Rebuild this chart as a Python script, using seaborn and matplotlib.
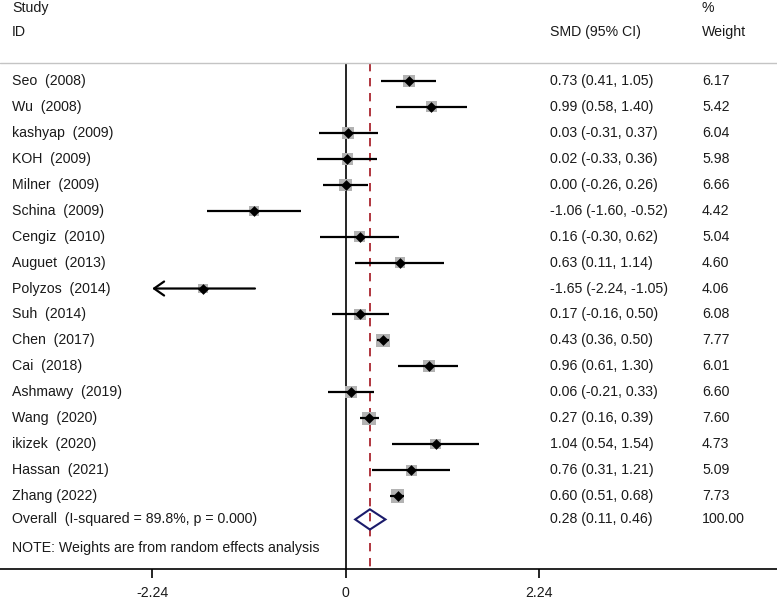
import numpy as np
import matplotlib
matplotlib.use("Agg")
import matplotlib.pyplot as plt
import pandas as pd
import seaborn as sns

# Study data
studies = ["Seo  (2008)", "Wu  (2008)", "kashyap  (2009)", "KOH  (2009)", "Milner  (2009)",
           "Schina  (2009)", "Cengiz  (2010)", "Auguet  (2013)", "Polyzos  (2014)", "Suh  (2014)",
           "Chen  (2017)", "Cai  (2018)", "Ashmawy  (2019)", "Wang  (2020)", "ikizek  (2020)",
           "Hassan  (2021)", "Zhang (2022)"]
smd = [0.73, 0.99, 0.03, 0.02, 0.00, -1.06, 0.16, 0.63, -1.65, 0.17,
       0.43, 0.96, 0.06, 0.27, 1.04, 0.76, 0.60]
lower = [0.41, 0.58, -0.31, -0.33, -0.26, -1.60, -0.30, 0.11, -2.24, -0.16,
         0.36, 0.61, -0.21, 0.16, 0.54, 0.31, 0.51]
upper = [1.05, 1.40, 0.37, 0.36, 0.26, -0.52, 0.62, 1.14, -1.05, 0.50,
         0.50, 1.30, 0.33, 0.39, 1.54, 1.21, 0.68]
weight = [6.17, 5.42, 6.04, 5.98, 6.66, 4.42, 5.04, 4.60, 4.06, 6.08,
          7.77, 6.01, 6.60, 7.60, 4.73, 5.09, 7.73]

overall_label = "Overall  (I-squared = 89.8%, p = 0.000)"
overall_est, overall_lo, overall_hi = 0.28, 0.11, 0.46
overall_weight = 100.00
note = "NOTE: Weights are from random effects analysis"
tick_values = [-2.24, 0, 2.24]

df = pd.DataFrame({"study": studies, "smd": smd, "lower": lower,
                   "upper": upper, "weight": weight})
df["row"] = np.arange(len(df))

sns.set_theme(style="white")
plt.rcParams["font.family"] = ["Liberation Sans", "DejaVu Sans"]
txt = "#1a1a1a"
fs = 10.2

fig = plt.figure(figsize=(7.77, 5.99), dpi=100)
ax = fig.add_axes([0, 0.0501, 1, 0.9499])
ax.set_xlim(-4.001, 4.992)
ax.set_ylim(18.81, -3.12)

# weight squares (area proportional to weight)
wmin, wmax = df["weight"].min(), df["weight"].max()
sns.scatterplot(data=df, x="smd", y="row", size="weight", sizes=(12 * wmin, 12 * wmax),
                size_norm=(wmin, wmax), marker="s", color="#b3b3b3", linewidth=0,
                legend=False, ax=ax, zorder=2)

# confidence intervals, with arrow when clipped at the axis
xmin_disp = tick_values[0]
for _, r in df.iterrows():
    if r["lower"] <= xmin_disp:
        ax.annotate("", xy=(xmin_disp, r["row"]), xytext=(r["upper"], r["row"]),
                    arrowprops=dict(arrowstyle="->,head_length=0.6,head_width=0.42",
                                    color="black", lw=1.6, shrinkA=0, shrinkB=0,
                                    mutation_scale=12), zorder=3)
    else:
        ax.hlines(r["row"], r["lower"], r["upper"], color="black", lw=1.6, zorder=3)

sns.scatterplot(data=df, x="smd", y="row", marker="D", s=30, color="black",
                linewidth=0, legend=False, ax=ax, zorder=4)

# overall diamond
oy = 16.9
dh = 0.39
ax.fill([overall_lo, overall_est, overall_hi, overall_est, overall_lo],
        [oy, oy - dh, oy, oy + dh, oy], facecolor="none", edgecolor="#1b1b6b",
        lw=1.5, zorder=4)

# reference lines
sep = -0.69
ax.vlines(0, sep, 18.81, color="black", lw=1.2, zorder=1)
ax.vlines(overall_est, sep, 18.81, color="#a3141e", lw=1.2,
          linestyles=(0, (5, 4)), zorder=1)
ax.axhline(sep, color="#c4c4c4", lw=1.0)

# text columns
tr = ax.get_yaxis_transform()
x_lab, x_ci, x_w = 12 / 777, 550 / 777, 702 / 777
ax.text(x_lab, -2.8, "Study", transform=tr, va="center", fontsize=fs, color=txt)
ax.text(x_lab, -1.9, "ID", transform=tr, va="center", fontsize=fs, color=txt)
ax.text(x_ci, -1.9, "SMD (95% CI)", transform=tr, va="center", fontsize=fs, color=txt)
ax.text(x_w, -2.8, "%", transform=tr, va="center", fontsize=fs, color=txt)
ax.text(x_w, -1.9, "Weight", transform=tr, va="center", fontsize=fs, color=txt)

for _, r in df.iterrows():
    ax.text(x_lab, r["row"], r["study"], transform=tr, va="center", fontsize=fs, color=txt)
    ax.text(x_ci, r["row"], f"{r['smd']:.2f} ({r['lower']:.2f}, {r['upper']:.2f})",
            transform=tr, va="center", fontsize=fs, color=txt)
    ax.text(x_w, r["row"], f"{r['weight']:.2f}", transform=tr, va="center",
            fontsize=fs, color=txt)

ax.text(x_lab, oy, overall_label, transform=tr, va="center", fontsize=fs, color=txt)
ax.text(x_ci, oy, f"{overall_est:.2f} ({overall_lo:.2f}, {overall_hi:.2f})",
        transform=tr, va="center", fontsize=fs, color=txt)
ax.text(x_w, oy, f"{overall_weight:.2f}", transform=tr, va="center", fontsize=fs, color=txt)
ax.text(x_lab, 18.0, note, transform=tr, va="center", fontsize=fs, color=txt)

# axis styling
for side in ["top", "left", "right"]:
    ax.spines[side].set_visible(False)
ax.spines["bottom"].set_color("black")
ax.spines["bottom"].set_linewidth(1.2)
ax.set_yticks([])
ax.set_xticks(tick_values)
ax.set_xticklabels([f"{v:g}" for v in tick_values])
ax.tick_params(axis="x", bottom=True, direction="out", length=6.5, width=1.2,
               color="black", labelsize=fs, labelcolor=txt, pad=6)
ax.set_xlabel("")
ax.set_ylabel("")

fig.savefig("out.png", dpi=100)
